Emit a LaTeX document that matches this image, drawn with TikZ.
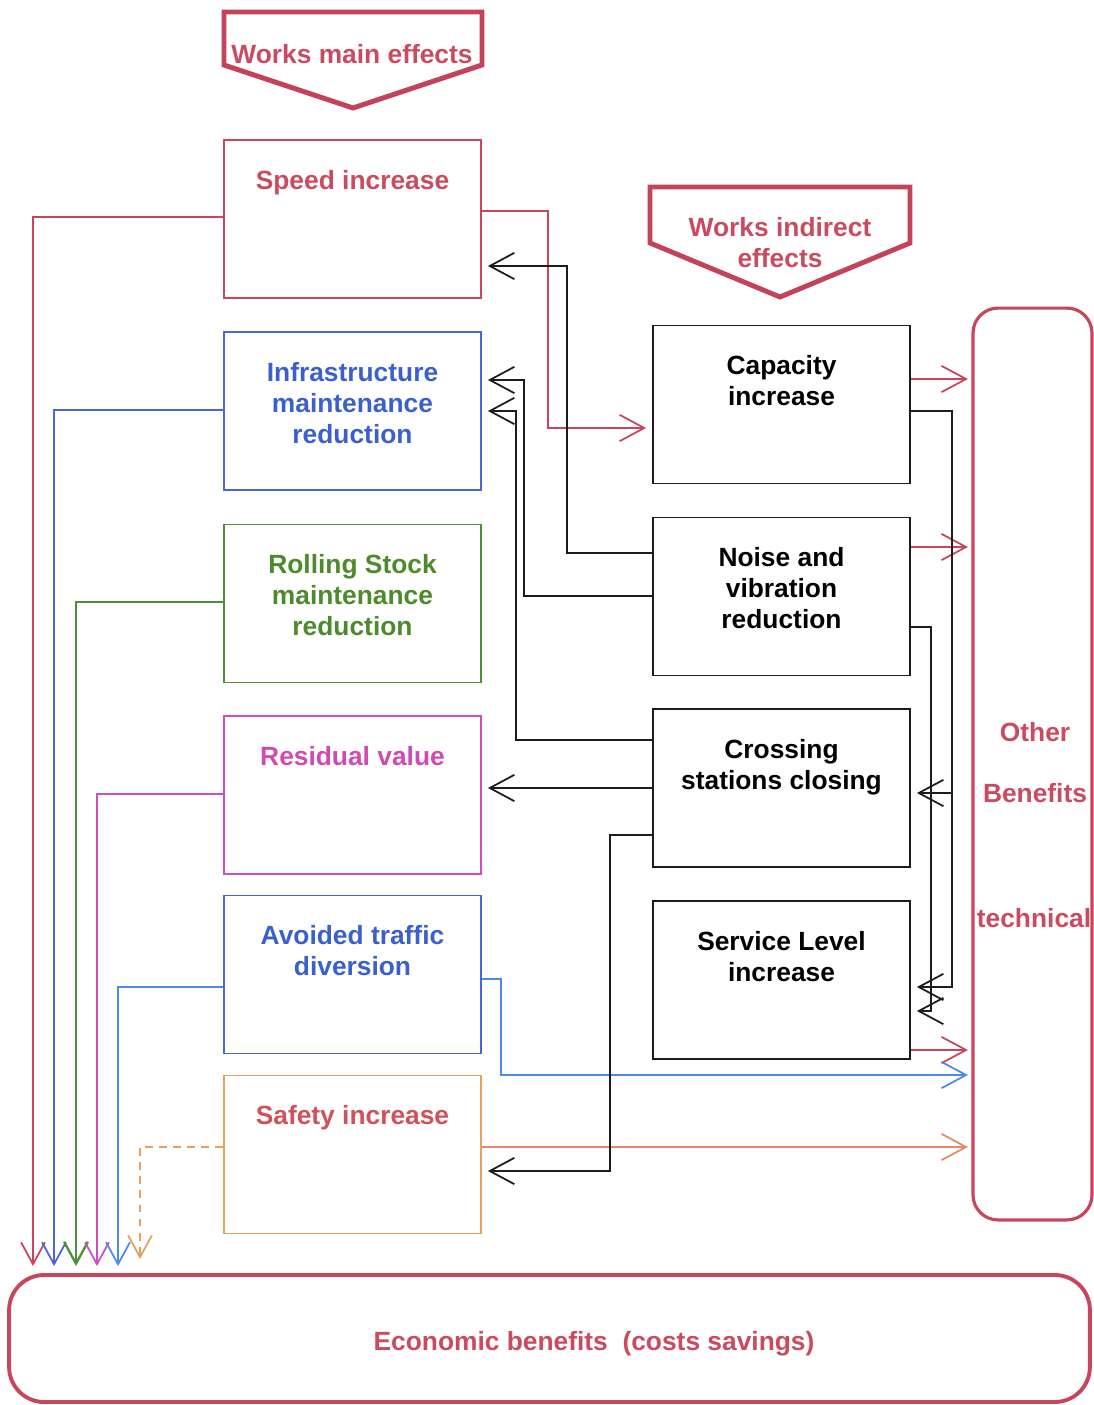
\documentclass[tikz,border=0pt]{standalone}
\usepackage{fontspec}
\setmainfont{Liberation Sans}
\usetikzlibrary{arrows.meta}
\definecolor{cred}{HTML}{C8455C}
\definecolor{hred}{HTML}{C4435A}
\definecolor{tred}{HTML}{CC4A5F}
\definecolor{cblue}{HTML}{4A66D6}
\definecolor{tblue}{HTML}{3C5FD0}
\definecolor{cgreen}{HTML}{4F8F35}
\definecolor{tgreen}{HTML}{4C8A2C}
\definecolor{cmag}{HTML}{D04DBF}
\definecolor{tmag}{HTML}{D04AB4}
\definecolor{clblue}{HTML}{4B8BE6}
\definecolor{corange}{HTML}{E8A05A}
\definecolor{coline}{HTML}{E38A6A}
\definecolor{tsafe}{HTML}{D2505A}
\definecolor{cblk}{HTML}{1C1C1C}
\begin{document}
\begin{tikzpicture}[x=0.02cm,y=-0.02cm,
  font=\fontsize{15}{17.6}\selectfont\bfseries,
  box/.style={draw, rectangle, minimum width=5.14cm, minimum height=3.16cm, line width=1.1pt, inner sep=0pt},
  txt/.style={anchor=north, align=center, inner sep=0pt},
  con/.style={line width=1pt},
  barbL/.style={-{Straight Barb[length=14pt,width=15pt]}, shorten >=3.4pt},
  barbR/.style={-{Straight Barb[length=14pt,width=15pt]}, shorten >=2pt},
  barbD/.style={-{Straight Barb[length=12.5pt,width=13.6pt]}, shorten >=4pt},
  header/.style={draw=hred, line width=2.8pt, line join=miter}
]
\useasboundingbox (0,0) rectangle (1094,1405);
\clip (0,0) rectangle (1094,1405);

% headers
\draw[header] (224,12) -- (482,12) -- (482,65) -- (353,108) -- (224,65) -- cycle;
\node[text=tred, inner sep=0pt] (hmain) at (352,54) {Works main effects};
\draw[header] (650,187) -- (910,187) -- (910,243) -- (780,297) -- (650,243) -- cycle;
\node[text=tred, inner sep=0pt, align=center] (hind) at (780,243) {Works indirect\\effects};

% left column boxes
\node[box, draw=cred] (speed) at (352.5,219) {};
\node[box, draw=cblue] (infra) at (352.5,411) {};
\node[box, draw=cgreen] (roll) at (352.5,603.5) {};
\node[box, draw=cmag] (resid) at (352.5,795) {};
\node[box, draw=cblue] (avoid) at (352.5,974.5) {};
\node[box, draw=corange] (safety) at (352.5,1154.5) {};

\node[txt, text=tred] (speedT) at ([yshift=-17.6pt]speed.north) {Speed increase};
\node[txt, text=tblue] (infraT) at ([yshift=-17.6pt]infra.north) {Infrastructure\\maintenance\\reduction};
\node[txt, text=tgreen] (rollT) at ([yshift=-17.6pt]roll.north) {Rolling Stock\\maintenance\\reduction};
\node[txt, text=tmag] (residT) at ([yshift=-17.6pt]resid.north) {Residual value};
\node[txt, text=tblue] (avoidT) at ([yshift=-17.6pt]avoid.north) {Avoided traffic\\diversion};
\node[txt, text=tsafe] (safetyT) at ([yshift=-17.6pt]safety.north) {Safety increase};

% right column boxes
\node[box, draw=cblk] (cap) at (781.5,404.5) {};
\node[box, draw=cblk] (noise) at (781.5,596.5) {};
\node[box, draw=cblk] (cross) at (781.5,788) {};
\node[box, draw=cblk] (serv) at (781.5,980) {};

\node[txt] (capT) at ([yshift=-17.6pt]cap.north) {Capacity\\increase};
\node[txt] (noiseT) at ([yshift=-17.6pt]noise.north) {Noise and\\vibration\\reduction};
\node[txt] (crossT) at ([yshift=-17.6pt]cross.north) {Crossing\\stations closing};
\node[txt] (servT) at ([yshift=-17.6pt]serv.north) {Service Level\\increase};

% other benefits
\node[draw=cred, line width=1.8pt, rounded corners=0.5cm, minimum width=2.38cm, minimum height=18.24cm, inner sep=0pt] (other) at (1032.5,764) {};
\node[text=tred, inner sep=0pt] (otherA) at (1035,732) {Other};
\node[text=tred, inner sep=0pt] (otherB) at (1035,793) {Benefits};
\node[text=tred, inner sep=0pt] (otherC) at (1034,918) {technical};

% economic benefits
\node[draw=cred, line width=2.2pt, rounded corners=0.7cm, minimum width=21.62cm, minimum height=2.54cm, inner sep=0pt] (econ) at (549.5,1338.5) {};
\node[text=tred, inner sep=0pt, anchor=base] (econT) at (594,1350) {Economic benefits\ \ (costs savings)};

% left connectors to economic benefits
\draw[con, cred, barbD] (speed.west |- 0,217) -| (econ.north -| 33,0);
\draw[con, cblue, barbD] (infra.west |- 0,410) -| (econ.north -| 54,0);
\draw[con, cgreen, line width=1.3pt, barbD] (roll.west |- 0,602) -| (econ.north -| 76,0);
\draw[con, cmag, barbD] (resid.west |- 0,794) -| (econ.north -| 97,0);
\draw[con, clblue, barbD] (avoid.west |- 0,987) -| (econ.north -| 118,0);
\draw[con, corange, dash pattern=on 4.5pt off 3.5pt, -{Straight Barb[length=12.5pt,width=13.6pt]}, shorten >=8pt] (safety.west |- 0,1147) -| (econ.north -| 140,0);

% red / coloured connectors
\draw[con, cred, barbL] (speed.east |- 0,211) -| (548,428) -- (cap.west |- 0,428);
\draw[con, cred, barbR] (cap.east |- 0,379) -- (other.west |- 0,379);
\draw[con, cred, barbR] (noise.east |- 0,547) -- (other.west |- 0,547);
\draw[con, cred, barbR] (serv.east |- 0,1050) -- (other.west |- 0,1050);
\draw[con, clblue, barbR] (avoid.east |- 0,979) -| (501,1075) -- (other.west |- 0,1075);
\draw[con, coline, barbR] (safety.east |- 0,1147) -- (other.west |- 0,1147);

% black connectors
\draw[con, cblk, barbL] (noise.west |- 0,553) -| (567,266) -- (speed.east |- 0,266);
\draw[con, cblk, barbL] (noise.west |- 0,596) -| (524,380) -- (infra.east |- 0,380);
\draw[con, cblk, barbL] (cross.west |- 0,740) -| (516,411) -- (infra.east |- 0,411);
\draw[con, cblk, barbL] (cross.west |- 0,788) -- (resid.east |- 0,788);
\draw[con, cblk, barbL] (cross.west |- 0,835) -| (610,1171) -- (safety.east |- 0,1171);
\draw[con, cblk, barbL] (cap.east |- 0,411) -| (952,793) -- (cross.east |- 0,793);
\draw[con, cblk, barbL] (952,793) -- (952,987) -- (serv.east |- 0,987);
\draw[con, cblk, barbL] (noise.east |- 0,627) -| (931,1011) -- (serv.east |- 0,1011);
\end{tikzpicture}
\end{document}
